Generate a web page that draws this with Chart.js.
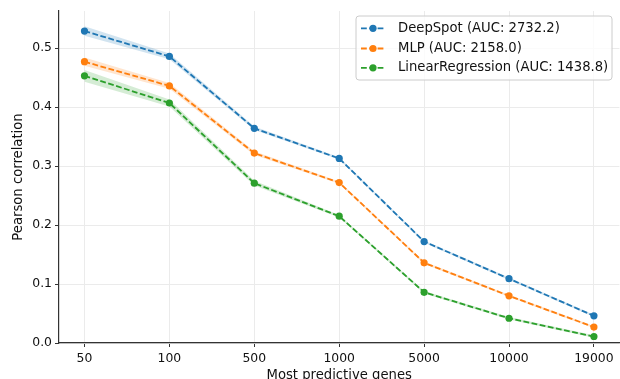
<!DOCTYPE html>
<html>
<head>
<meta charset="utf-8">
<script src="https://cdn.jsdelivr.net/npm/chart.js@4.4.0/dist/chart.umd.min.js"></script>
<style>
html,body{margin:0;padding:0;overflow:hidden;background:#fff;}
#wrap{width:623px;height:379px;}
</style>
</head>
<body>
<div id="wrap"><canvas id="c" width="623" height="379"></canvas></div>
<script>
const genes = ['50','100','500','1000','5000','10000','19000'];
const yTicks = [0.0,0.1,0.2,0.3,0.4,0.5];
const deepSpot = [0.529,0.486,0.364,0.313,0.172,0.109,0.046];
const deepStd  = [0.008,0.005,0.003,0.002,0.002,0.002,0.002];
const mlp      = [0.477,0.436,0.322,0.272,0.136,0.080,0.027];
const mlpStd   = [0.007,0.005,0.003,0.002,0.002,0.002,0.002];
const linReg   = [0.453,0.407,0.271,0.215,0.086,0.042,0.011];
const linStd   = [0.010,0.006,0.004,0.002,0.002,0.002,0.002];
const names = ['DeepSpot (AUC: 2732.2)','MLP (AUC: 2158.0)','LinearRegression (AUC: 1438.8)'];
const colors = ['#1f77b4','#ff7f0e','#2ca02c'];
const bands = ['rgba(31,119,180,0.2)','rgba(255,127,14,0.2)','rgba(44,160,44,0.2)'];
const series = [deepSpot, mlp, linReg];
const stds = [deepStd, mlpStd, linStd];
const FONT = 'DejaVu Sans';
const TICK_SIZE = 12.4, LABEL_SIZE = 13.2;
const TEXT = '#111';

const datasets = [];
series.forEach((s,k)=>{
  datasets.push({label:'lo'+k, data:s.map((v,i)=>({x:i,y:v-stds[k][i]})), borderWidth:0, pointRadius:0, fill:false, order:10});
  datasets.push({label:'hi'+k, data:s.map((v,i)=>({x:i,y:v+stds[k][i]})), borderWidth:0, pointRadius:0, fill:'-1', backgroundColor:bands[k], order:10});
});
series.forEach((s,k)=>{
  datasets.push({label:names[k], data:s.map((v,i)=>({x:i,y:v})), borderColor:colors[k], backgroundColor:colors[k],
    borderWidth:1.8, borderDash:[5.8,2.5], pointRadius:3.6, pointHoverRadius:3.6, pointBorderWidth:0, fill:false, order:3-k});
});

const legendPlugin = {
  id:'mplLegend',
  afterDraw(chart){
    const ctx = chart.ctx;
    ctx.save();
    const x0=356, y0=16, w=256, h=64, r=3;
    ctx.beginPath();
    ctx.moveTo(x0+r,y0); ctx.lineTo(x0+w-r,y0); ctx.quadraticCurveTo(x0+w,y0,x0+w,y0+r);
    ctx.lineTo(x0+w,y0+h-r); ctx.quadraticCurveTo(x0+w,y0+h,x0+w-r,y0+h);
    ctx.lineTo(x0+r,y0+h); ctx.quadraticCurveTo(x0,y0+h,x0,y0+h-r);
    ctx.lineTo(x0,y0+r); ctx.quadraticCurveTo(x0,y0,x0+r,y0);
    ctx.closePath();
    ctx.fillStyle='rgba(255,255,255,0.8)'; ctx.fill();
    ctx.strokeStyle='#cccccc'; ctx.lineWidth=1; ctx.stroke();
    const rows=[28.3,48.5,67.8];
    names.forEach((n,k)=>{
      const y=rows[k];
      ctx.strokeStyle=colors[k]; ctx.lineWidth=1.8; ctx.setLineDash([5.8,2.5]);
      ctx.beginPath(); ctx.moveTo(361,y); ctx.lineTo(385,y); ctx.stroke();
      ctx.setLineDash([]);
      ctx.fillStyle=colors[k]; ctx.beginPath(); ctx.arc(373,y,3.6,0,Math.PI*2); ctx.fill();
      ctx.fillStyle=TEXT; ctx.font=LABEL_SIZE+'px "'+FONT+'"'; ctx.textBaseline='middle'; ctx.textAlign='left';
      ctx.fillText(n,398,y);
    });
    ctx.restore();
  }
};

new Chart(document.getElementById('c'),{
  type:'line',
  data:{datasets},
  options:{
    responsive:false, animation:false,
    layout:{padding:{top:11,right:0,left:0,bottom:0}},
    plugins:{legend:{display:false}, tooltip:{enabled:false}},
    scales:{
      x:{type:'linear', min:-0.3, max:6.3,
        afterBuildTicks:(s)=>{s.ticks=genes.map((g,i)=>({value:i}));},
        afterFit:(s)=>{s.height=36;},
        ticks:{callback:(v)=>genes[v], font:{family:FONT,size:TICK_SIZE}, color:TEXT, padding:4, maxRotation:0, autoSkip:false},
        grid:{color:'#ebebeb', lineWidth:1, tickColor:'#333', tickLength:4},
        border:{color:'#333', width:1.2},
        title:{display:true, text:'Most predictive genes', font:{family:FONT,size:LABEL_SIZE}, color:TEXT, padding:{top:0,bottom:-4.5}}
      },
      y:{min:0, max:0.563,
        afterBuildTicks:(s)=>{s.ticks=yTicks.map(v=>({value:v}));},
        afterFit:(s)=>{s.width=59;},
        ticks:{callback:(v)=>v.toFixed(1), font:{family:FONT,size:TICK_SIZE}, color:TEXT, padding:3},
        grid:{color:'#ebebeb', lineWidth:1, tickColor:'#333', tickLength:4},
        border:{color:'#333', width:1.2},
        title:{display:true, text:'Pearson correlation', font:{family:FONT,size:LABEL_SIZE}, color:TEXT, padding:{top:10.5,bottom:0}}
      }
    }
  },
  plugins:[legendPlugin]
});
</script>
</body>
</html>
